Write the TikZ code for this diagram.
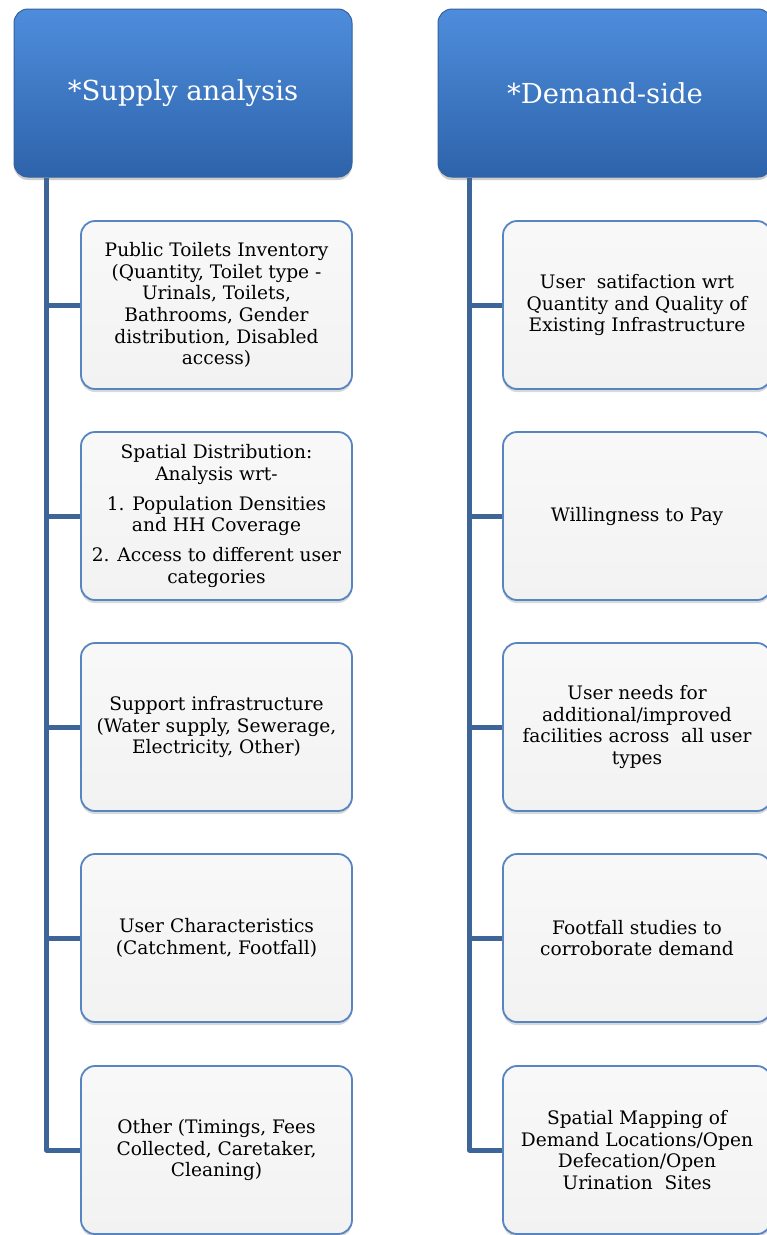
\documentclass[tikz,border=0pt]{standalone}
\usepackage{fontspec}
\setmainfont{DejaVu Serif}
\usetikzlibrary{shadows}
\definecolor{headtop}{RGB}{78,141,220}
\definecolor{headbot}{RGB}{46,99,170}
\definecolor{headrim}{RGB}{50,98,160}
\definecolor{itemrim}{RGB}{86,133,194}
\definecolor{itemfill}{RGB}{242,242,242}
\definecolor{trunk}{RGB}{62,101,152}
\begin{document}
\begin{tikzpicture}[x=1pt, y=-1pt,
		head/.style={draw=headrim, line width=1pt, rounded corners=14pt, top color=headtop, bottom color=headbot, minimum height=168pt, text=white, font=\fontsize{27.5}{32}\selectfont, drop shadow={opacity=0.4, shadow xshift=0pt, shadow yshift=-3pt}},
		item/.style={draw=itemrim, line width=1.8pt, rounded corners=14pt, top color=white!50!itemfill, bottom color=itemfill, minimum height=168pt, align=center, font=\fontsize{18.6}{21.7}\selectfont, drop shadow={opacity=0.3, shadow xshift=0pt, shadow yshift=-3pt}},
		stem/.style={draw=trunk, line width=5pt, line join=round}]
			\useasboundingbox (0,0) rectangle (767,1235);
			\clip (0,0) rectangle (767,1235);
			\node[head, minimum width=338pt] (sup) at (183,93) {*Supply analysis};
			\node[head, minimum width=334pt] (dem) at (605,93) {*Demand-side};
			\coordinate (supfoot) at ([xshift=33pt]sup.south west);
			\coordinate (demfoot) at ([xshift=32pt]dem.south west);
			\node[item, minimum width=271pt] (s1) at (216.5,305) {Public Toilets Inventory\\(Quantity, Toilet type -\\Urinals, Toilets,\\Bathrooms, Gender\\distribution, Disabled\\access)};
			\node[item, minimum width=271pt] (s2) at (216.5,516) {Spatial Distribution:\\Analysis wrt-\\[8pt]1. Population Densities\\and HH Coverage\\[8pt]2. Access to different user\\categories};
			\node[item, minimum width=271pt] (s3) at (216.5,727) {Support infrastructure\\(Water supply, Sewerage,\\Electricity, Other)};
			\node[item, minimum width=271pt] (s4) at (216.5,938) {User Characteristics\\(Catchment, Footfall)};
			\node[item, minimum width=271pt] (s5) at (216.5,1150) {Other (Timings, Fees\\Collected, Caretaker,\\Cleaning)};
			\node[item, minimum width=268pt] (d1) at (637,305) {User\ \ satifaction wrt\\Quantity and Quality of\\Existing Infrastructure};
			\node[item, minimum width=268pt] (d2) at (637,516) {Willingness to Pay};
			\node[item, minimum width=268pt] (d3) at (637,727) {User needs for\\additional/improved\\facilities across\ \ all user\\types};
			\node[item, minimum width=268pt] (d4) at (637,938) {Footfall studies to\\corroborate demand};
			\node[item, minimum width=268pt] (d5) at (637,1150) {Spatial Mapping of\\Demand Locations/Open\\Defecation/Open\\Urination\ \ Sites};
			\draw[stem] (supfoot) |- (s5.west);
			\draw[stem] (supfoot |- s1.west) -- (s1.west);
			\draw[stem] (supfoot |- s2.west) -- (s2.west);
			\draw[stem] (supfoot |- s3.west) -- (s3.west);
			\draw[stem] (supfoot |- s4.west) -- (s4.west);
			\draw[stem] (demfoot) |- (d5.west);
			\draw[stem] (demfoot |- d1.west) -- (d1.west);
			\draw[stem] (demfoot |- d2.west) -- (d2.west);
			\draw[stem] (demfoot |- d3.west) -- (d3.west);
			\draw[stem] (demfoot |- d4.west) -- (d4.west);
		\end{tikzpicture}
\end{document}
